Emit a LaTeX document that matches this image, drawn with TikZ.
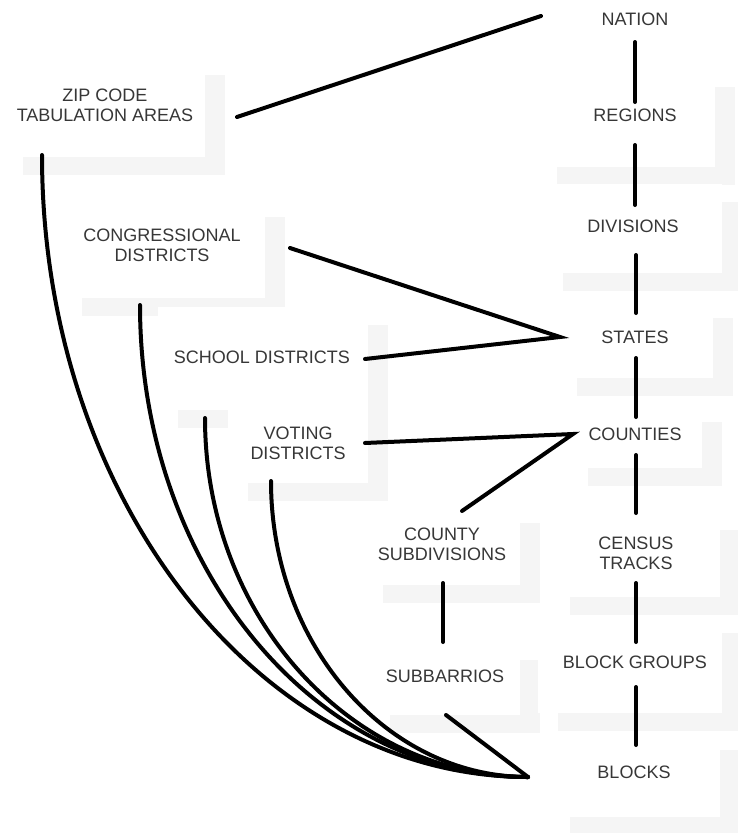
\documentclass[tikz,border=0pt]{standalone}
\usepackage{fontspec}
\setmainfont{Liberation Sans}
\usetikzlibrary{calc}
\definecolor{shadowgray}{RGB}{245,245,245}
\definecolor{textgray}{RGB}{55,55,55}
\newcommand{\myshadowbox}[4]{%
  \fill[shadowgray] (#1+20,#2+18) rectangle (#3+20,#4+18);
  \fill[white] (#1,#2) rectangle (#3,#4);}
\begin{document}
\begin{tikzpicture}[x=1pt,y=-1pt,
  lbl/.style={inner sep=0pt, align=center, text=textgray,
    font=\fontsize{18}{20}\selectfont},
  conn/.style={line width=4pt, line cap=round}]
\fill[white] (0,0) rectangle (737,833);
\useasboundingbox (0,0) rectangle (737,833);
% background boxes with light shadows
\myshadowbox{3}{57}{205}{157}
\myshadowbox{62}{199}{265}{298}
\myshadowbox{158}{307}{368}{410}
\myshadowbox{228}{403}{368}{483}
\myshadowbox{363}{505}{520}{585}
\myshadowbox{370}{642}{520}{715}
\myshadowbox{537}{69}{715}{167}
\myshadowbox{543}{184}{722}{273}
\myshadowbox{557}{300}{713}{378}
\myshadowbox{568}{404}{702}{468}
\myshadowbox{550}{512}{720}{597}
\myshadowbox{538}{615}{722}{713}
\myshadowbox{550}{732}{720}{817}
% labels
\node[lbl] (nation) at (635,19) {NATION};
\node[lbl] (regions) at (635,115) {REGIONS};
\node[lbl] (divisions) at (633,226) {DIVISIONS};
\node[lbl] (states) at (635,337) {STATES};
\node[lbl] (counties) at (635,434) {COUNTIES};
\node[lbl] (census) at (636,553) {CENSUS\\TRACKS};
\node[lbl] (blockgroups) at (635,662) {BLOCK GROUPS};
\node[lbl] (blocks) at (634,772) {BLOCKS};
\node[lbl] (zip) at (105,105) {ZIP CODE\\TABULATION AREAS};
\node[lbl] (congr) at (162,245) {CONGRESSIONAL\\DISTRICTS};
\node[lbl] (school) at (262,357) {SCHOOL DISTRICTS};
\node[lbl] (voting) at (298,443) {VOTING\\DISTRICTS};
\node[lbl] (countysub) at (442,544) {COUNTY\\SUBDIVISIONS};
\node[lbl] (subbarrios) at (445,676) {SUBBARRIOS};
\coordinate (sj) at (560,337);
\coordinate (cj) at (573,434);
\coordinate (tip) at (528,777);
% straight connectors
\draw[conn] ($(zip)+(132,12)$) -- ($(nation)+(-94,-3)$);
\draw[conn] ($(nation)+(0,23)$) -- ($(regions)+(0,-13)$);
\draw[conn] ($(regions)+(0,30)$) -- ($(divisions)+(2,-21)$);
\draw[conn] ($(divisions)+(3,29)$) -- ($(states)+(1,-24)$);
\draw[conn] ($(states)+(1,21)$) -- ($(counties)+(1,-17)$);
\draw[conn] ($(counties)+(1,21)$) -- ($(census)+(0,-40)$);
\draw[conn] ($(census)+(0,30)$) -- ($(blockgroups)+(1,-20)$);
\draw[conn] ($(blockgroups)+(1,25)$) -- ($(blocks)+(2,-27)$);
\draw[conn] ($(congr)+(128,3)$) -- (sj) -- ($(school)+(103,2)$);
\draw[conn] ($(voting)+(67,0)$) -- (cj) -- ($(countysub)+(20,-33)$);
\draw[conn] ($(countysub)+(1,39)$) -- ($(subbarrios)+(-2,-34)$);
\draw[conn] ($(subbarrios)+(1,39)$) -- (tip);
% curved connectors into the blocks tip
\draw[conn] ($(zip)+(-63,50)$) .. controls +(0,343) and +(-268,0) .. (tip);
\draw[conn] ($(congr)+(-22,60)$) .. controls +(0,261) and +(-214,0) .. (tip);
\draw[conn] ($(school)+(-57,61)$) .. controls +(0,198) and +(-178,0) .. (tip);
\draw[conn] ($(voting)+(-27,38)$) .. controls +(0,163) and +(-142,0) .. (tip);
\end{tikzpicture}
\end{document}
